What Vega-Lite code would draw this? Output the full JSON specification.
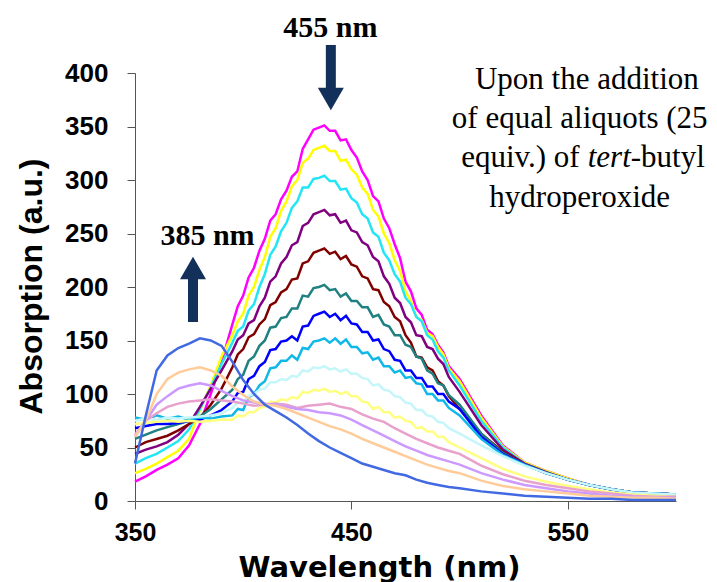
{
"$schema": "https://vega.github.io/schema/vega-lite/v6.json",
"width": 541, "height": 428,
"autosize": {"type": "none"},
"padding": {"left": 135, "top": 73, "right": 41, "bottom": 81},
"background": "white",
"config": {"view": {"stroke": null}},
"datasets": {
"spec": [
{"s":"s01","w":350,"a":18},{"s":"s01","w":355,"a":23},{"s":"s01","w":360,"a":29},{"s":"s01","w":365,"a":34},{"s":"s01","w":370,"a":40},{"s":"s01","w":375,"a":52},{"s":"s01","w":380,"a":72},{"s":"s01","w":385,"a":100},{"s":"s01","w":390,"a":130},{"s":"s01","w":395,"a":165},{"s":"s01","w":400,"a":192},{"s":"s01","w":405,"a":218},{"s":"s01","w":410,"a":245},{"s":"s01","w":415,"a":268},{"s":"s01","w":420,"a":290},{"s":"s01","w":425,"a":308},{"s":"s01","w":430,"a":338},{"s":"s01","w":435,"a":349},{"s":"s01","w":440,"a":346},{"s":"s01","w":445,"a":337},{"s":"s01","w":450,"a":328},{"s":"s01","w":455,"a":308},{"s":"s01","w":460,"a":285},{"s":"s01","w":465,"a":264},{"s":"s01","w":470,"a":240},{"s":"s01","w":475,"a":205},{"s":"s01","w":480,"a":180},{"s":"s01","w":485,"a":160},{"s":"s01","w":490,"a":146},{"s":"s01","w":495,"a":126},{"s":"s01","w":500,"a":114},{"s":"s01","w":510,"a":80},{"s":"s01","w":520,"a":52},{"s":"s01","w":530,"a":36},{"s":"s01","w":540,"a":28},{"s":"s01","w":550,"a":21},{"s":"s01","w":560,"a":15},{"s":"s01","w":570,"a":11},{"s":"s01","w":580,"a":8},{"s":"s01","w":590,"a":7},{"s":"s01","w":600,"a":6},
{"s":"s02","w":350,"a":26},{"s":"s02","w":355,"a":30},{"s":"s02","w":360,"a":35},{"s":"s02","w":365,"a":41},{"s":"s02","w":370,"a":47},{"s":"s02","w":375,"a":58},{"s":"s02","w":380,"a":85},{"s":"s02","w":385,"a":108},{"s":"s02","w":390,"a":135},{"s":"s02","w":395,"a":155},{"s":"s02","w":400,"a":175},{"s":"s02","w":405,"a":200},{"s":"s02","w":410,"a":228},{"s":"s02","w":415,"a":255},{"s":"s02","w":420,"a":280},{"s":"s02","w":425,"a":300},{"s":"s02","w":430,"a":320},{"s":"s02","w":435,"a":330},{"s":"s02","w":440,"a":327},{"s":"s02","w":445,"a":318},{"s":"s02","w":450,"a":310},{"s":"s02","w":455,"a":293},{"s":"s02","w":460,"a":272},{"s":"s02","w":465,"a":250},{"s":"s02","w":470,"a":225},{"s":"s02","w":475,"a":196},{"s":"s02","w":480,"a":172},{"s":"s02","w":485,"a":157},{"s":"s02","w":490,"a":144},{"s":"s02","w":495,"a":124},{"s":"s02","w":500,"a":112},{"s":"s02","w":510,"a":78},{"s":"s02","w":520,"a":51},{"s":"s02","w":530,"a":36},{"s":"s02","w":540,"a":28},{"s":"s02","w":550,"a":21},{"s":"s02","w":560,"a":15},{"s":"s02","w":570,"a":11},{"s":"s02","w":580,"a":8},{"s":"s02","w":590,"a":7},{"s":"s02","w":600,"a":6},
{"s":"s03","w":350,"a":35},{"s":"s03","w":355,"a":40},{"s":"s03","w":360,"a":44},{"s":"s03","w":365,"a":50},{"s":"s03","w":370,"a":56},{"s":"s03","w":375,"a":67},{"s":"s03","w":380,"a":86},{"s":"s03","w":385,"a":106},{"s":"s03","w":390,"a":128},{"s":"s03","w":395,"a":148},{"s":"s03","w":400,"a":163},{"s":"s03","w":405,"a":184},{"s":"s03","w":410,"a":212},{"s":"s03","w":415,"a":238},{"s":"s03","w":420,"a":260},{"s":"s03","w":425,"a":280},{"s":"s03","w":430,"a":293},{"s":"s03","w":435,"a":302},{"s":"s03","w":440,"a":299},{"s":"s03","w":445,"a":291},{"s":"s03","w":450,"a":283},{"s":"s03","w":455,"a":268},{"s":"s03","w":460,"a":251},{"s":"s03","w":465,"a":232},{"s":"s03","w":470,"a":212},{"s":"s03","w":475,"a":190},{"s":"s03","w":480,"a":172},{"s":"s03","w":485,"a":155},{"s":"s03","w":490,"a":140},{"s":"s03","w":495,"a":122},{"s":"s03","w":500,"a":108},{"s":"s03","w":510,"a":75},{"s":"s03","w":520,"a":50},{"s":"s03","w":530,"a":35},{"s":"s03","w":540,"a":27},{"s":"s03","w":550,"a":20},{"s":"s03","w":560,"a":15},{"s":"s03","w":570,"a":11},{"s":"s03","w":580,"a":8},{"s":"s03","w":590,"a":7},{"s":"s03","w":600,"a":6},
{"s":"s04","w":350,"a":44},{"s":"s04","w":355,"a":48},{"s":"s04","w":360,"a":51},{"s":"s04","w":365,"a":55},{"s":"s04","w":370,"a":62},{"s":"s04","w":375,"a":72},{"s":"s04","w":380,"a":88},{"s":"s04","w":385,"a":105},{"s":"s04","w":390,"a":122},{"s":"s04","w":395,"a":140},{"s":"s04","w":400,"a":155},{"s":"s04","w":405,"a":169},{"s":"s04","w":410,"a":190},{"s":"s04","w":415,"a":210},{"s":"s04","w":420,"a":228},{"s":"s04","w":425,"a":242},{"s":"s04","w":430,"a":260},{"s":"s04","w":435,"a":270},{"s":"s04","w":440,"a":267},{"s":"s04","w":445,"a":260},{"s":"s04","w":450,"a":253},{"s":"s04","w":455,"a":242},{"s":"s04","w":460,"a":228},{"s":"s04","w":465,"a":210},{"s":"s04","w":470,"a":190},{"s":"s04","w":475,"a":172},{"s":"s04","w":480,"a":155},{"s":"s04","w":485,"a":144},{"s":"s04","w":490,"a":133},{"s":"s04","w":495,"a":116},{"s":"s04","w":500,"a":102},{"s":"s04","w":510,"a":71},{"s":"s04","w":520,"a":48},{"s":"s04","w":530,"a":35},{"s":"s04","w":540,"a":27},{"s":"s04","w":550,"a":20},{"s":"s04","w":560,"a":15},{"s":"s04","w":570,"a":11},{"s":"s04","w":580,"a":8},{"s":"s04","w":590,"a":7},{"s":"s04","w":600,"a":6},
{"s":"s05","w":350,"a":50},{"s":"s05","w":355,"a":55},{"s":"s05","w":360,"a":58},{"s":"s05","w":365,"a":61},{"s":"s05","w":370,"a":66},{"s":"s05","w":375,"a":72},{"s":"s05","w":380,"a":78},{"s":"s05","w":385,"a":90},{"s":"s05","w":390,"a":105},{"s":"s05","w":395,"a":125},{"s":"s05","w":400,"a":142},{"s":"s05","w":405,"a":156},{"s":"s05","w":410,"a":170},{"s":"s05","w":415,"a":186},{"s":"s05","w":420,"a":198},{"s":"s05","w":425,"a":208},{"s":"s05","w":430,"a":224},{"s":"s05","w":435,"a":234},{"s":"s05","w":440,"a":231},{"s":"s05","w":445,"a":226},{"s":"s05","w":450,"a":221},{"s":"s05","w":455,"a":210},{"s":"s05","w":460,"a":198},{"s":"s05","w":465,"a":186},{"s":"s05","w":470,"a":172},{"s":"s05","w":475,"a":155},{"s":"s05","w":480,"a":135},{"s":"s05","w":485,"a":125},{"s":"s05","w":490,"a":112},{"s":"s05","w":495,"a":98},{"s":"s05","w":500,"a":86},{"s":"s05","w":510,"a":63},{"s":"s05","w":520,"a":46},{"s":"s05","w":530,"a":34},{"s":"s05","w":540,"a":26},{"s":"s05","w":550,"a":20},{"s":"s05","w":560,"a":15},{"s":"s05","w":570,"a":11},{"s":"s05","w":580,"a":8},{"s":"s05","w":590,"a":7},{"s":"s05","w":600,"a":6},
{"s":"s06","w":350,"a":58},{"s":"s06","w":355,"a":62},{"s":"s06","w":360,"a":66},{"s":"s06","w":365,"a":69},{"s":"s06","w":370,"a":72},{"s":"s06","w":375,"a":75},{"s":"s06","w":380,"a":79},{"s":"s06","w":385,"a":86},{"s":"s06","w":390,"a":95},{"s":"s06","w":395,"a":104},{"s":"s06","w":400,"a":118},{"s":"s06","w":405,"a":135},{"s":"s06","w":410,"a":150},{"s":"s06","w":415,"a":163},{"s":"s06","w":420,"a":172},{"s":"s06","w":425,"a":180},{"s":"s06","w":430,"a":191},{"s":"s06","w":435,"a":200},{"s":"s06","w":440,"a":197},{"s":"s06","w":445,"a":191},{"s":"s06","w":450,"a":187},{"s":"s06","w":455,"a":181},{"s":"s06","w":460,"a":172},{"s":"s06","w":465,"a":165},{"s":"s06","w":470,"a":155},{"s":"s06","w":475,"a":146},{"s":"s06","w":480,"a":135},{"s":"s06","w":485,"a":122},{"s":"s06","w":490,"a":110},{"s":"s06","w":495,"a":99},{"s":"s06","w":500,"a":90},{"s":"s06","w":510,"a":63},{"s":"s06","w":520,"a":45},{"s":"s06","w":530,"a":34},{"s":"s06","w":540,"a":26},{"s":"s06","w":550,"a":20},{"s":"s06","w":560,"a":15},{"s":"s06","w":570,"a":11},{"s":"s06","w":580,"a":8},{"s":"s06","w":590,"a":7},{"s":"s06","w":600,"a":6},
{"s":"s07","w":350,"a":68},{"s":"s07","w":355,"a":70},{"s":"s07","w":360,"a":72},{"s":"s07","w":365,"a":72},{"s":"s07","w":370,"a":73},{"s":"s07","w":375,"a":75},{"s":"s07","w":380,"a":76},{"s":"s07","w":385,"a":80},{"s":"s07","w":390,"a":85},{"s":"s07","w":395,"a":93},{"s":"s07","w":400,"a":102},{"s":"s07","w":405,"a":117},{"s":"s07","w":410,"a":130},{"s":"s07","w":415,"a":142},{"s":"s07","w":420,"a":150},{"s":"s07","w":425,"a":150},{"s":"s07","w":430,"a":164},{"s":"s07","w":435,"a":175},{"s":"s07","w":440,"a":172},{"s":"s07","w":445,"a":169},{"s":"s07","w":450,"a":166},{"s":"s07","w":455,"a":158},{"s":"s07","w":460,"a":150},{"s":"s07","w":465,"a":142},{"s":"s07","w":470,"a":132},{"s":"s07","w":475,"a":122},{"s":"s07","w":480,"a":115},{"s":"s07","w":485,"a":107},{"s":"s07","w":490,"a":100},{"s":"s07","w":495,"a":93},{"s":"s07","w":500,"a":86},{"s":"s07","w":510,"a":60},{"s":"s07","w":520,"a":44},{"s":"s07","w":530,"a":34},{"s":"s07","w":540,"a":26},{"s":"s07","w":550,"a":20},{"s":"s07","w":560,"a":15},{"s":"s07","w":570,"a":11},{"s":"s07","w":580,"a":8},{"s":"s07","w":590,"a":7},{"s":"s07","w":600,"a":6},
{"s":"s08","w":350,"a":78},{"s":"s08","w":355,"a":76},{"s":"s08","w":360,"a":80},{"s":"s08","w":365,"a":77},{"s":"s08","w":370,"a":79},{"s":"s08","w":375,"a":76},{"s":"s08","w":380,"a":78},{"s":"s08","w":385,"a":77},{"s":"s08","w":390,"a":79},{"s":"s08","w":395,"a":80},{"s":"s08","w":400,"a":85},{"s":"s08","w":405,"a":100},{"s":"s08","w":410,"a":112},{"s":"s08","w":415,"a":125},{"s":"s08","w":420,"a":131},{"s":"s08","w":425,"a":132},{"s":"s08","w":430,"a":142},{"s":"s08","w":435,"a":150},{"s":"s08","w":440,"a":148},{"s":"s08","w":445,"a":147},{"s":"s08","w":450,"a":144},{"s":"s08","w":455,"a":138},{"s":"s08","w":460,"a":132},{"s":"s08","w":465,"a":126},{"s":"s08","w":470,"a":120},{"s":"s08","w":475,"a":115},{"s":"s08","w":480,"a":110},{"s":"s08","w":485,"a":100},{"s":"s08","w":490,"a":94},{"s":"s08","w":495,"a":87},{"s":"s08","w":500,"a":80},{"s":"s08","w":510,"a":58},{"s":"s08","w":520,"a":43},{"s":"s08","w":530,"a":34},{"s":"s08","w":540,"a":26},{"s":"s08","w":550,"a":20},{"s":"s08","w":560,"a":15},{"s":"s08","w":570,"a":11},{"s":"s08","w":580,"a":8},{"s":"s08","w":590,"a":7},{"s":"s08","w":600,"a":6},
{"s":"s09","w":350,"a":75},{"s":"s09","w":355,"a":77},{"s":"s09","w":360,"a":76},{"s":"s09","w":365,"a":78},{"s":"s09","w":370,"a":77},{"s":"s09","w":375,"a":78},{"s":"s09","w":380,"a":79},{"s":"s09","w":385,"a":80},{"s":"s09","w":390,"a":82},{"s":"s09","w":395,"a":87},{"s":"s09","w":400,"a":92},{"s":"s09","w":405,"a":100},{"s":"s09","w":410,"a":105},{"s":"s09","w":415,"a":111},{"s":"s09","w":420,"a":113},{"s":"s09","w":425,"a":116},{"s":"s09","w":430,"a":121},{"s":"s09","w":435,"a":124},{"s":"s09","w":440,"a":123},{"s":"s09","w":445,"a":121},{"s":"s09","w":450,"a":119},{"s":"s09","w":455,"a":115},{"s":"s09","w":460,"a":108},{"s":"s09","w":465,"a":104},{"s":"s09","w":470,"a":98},{"s":"s09","w":475,"a":92},{"s":"s09","w":480,"a":85},{"s":"s09","w":485,"a":80},{"s":"s09","w":490,"a":74},{"s":"s09","w":495,"a":68},{"s":"s09","w":500,"a":63},{"s":"s09","w":510,"a":52},{"s":"s09","w":520,"a":42},{"s":"s09","w":530,"a":33},{"s":"s09","w":540,"a":26},{"s":"s09","w":550,"a":20},{"s":"s09","w":560,"a":15},{"s":"s09","w":570,"a":11},{"s":"s09","w":580,"a":8},{"s":"s09","w":590,"a":7},{"s":"s09","w":600,"a":6},
{"s":"s10","w":350,"a":72},{"s":"s10","w":355,"a":73},{"s":"s10","w":360,"a":74},{"s":"s10","w":365,"a":75},{"s":"s10","w":370,"a":74},{"s":"s10","w":375,"a":75},{"s":"s10","w":380,"a":74},{"s":"s10","w":385,"a":75},{"s":"s10","w":390,"a":76},{"s":"s10","w":395,"a":76},{"s":"s10","w":400,"a":79},{"s":"s10","w":405,"a":83},{"s":"s10","w":410,"a":88},{"s":"s10","w":415,"a":92},{"s":"s10","w":420,"a":94},{"s":"s10","w":425,"a":96},{"s":"s10","w":430,"a":101},{"s":"s10","w":435,"a":103},{"s":"s10","w":440,"a":102},{"s":"s10","w":445,"a":100},{"s":"s10","w":450,"a":98},{"s":"s10","w":455,"a":93},{"s":"s10","w":460,"a":86},{"s":"s10","w":465,"a":83},{"s":"s10","w":470,"a":78},{"s":"s10","w":475,"a":75},{"s":"s10","w":480,"a":68},{"s":"s10","w":485,"a":65},{"s":"s10","w":490,"a":60},{"s":"s10","w":495,"a":55},{"s":"s10","w":500,"a":50},{"s":"s10","w":510,"a":40},{"s":"s10","w":520,"a":30},{"s":"s10","w":530,"a":23},{"s":"s10","w":540,"a":18},{"s":"s10","w":550,"a":14},{"s":"s10","w":560,"a":11},{"s":"s10","w":570,"a":8},{"s":"s10","w":580,"a":6},{"s":"s10","w":590,"a":5},{"s":"s10","w":600,"a":4},
{"s":"s11","w":350,"a":62},{"s":"s11","w":355,"a":75},{"s":"s11","w":360,"a":82},{"s":"s11","w":365,"a":88},{"s":"s11","w":370,"a":91},{"s":"s11","w":375,"a":93},{"s":"s11","w":380,"a":94},{"s":"s11","w":385,"a":95},{"s":"s11","w":390,"a":94},{"s":"s11","w":395,"a":93},{"s":"s11","w":400,"a":91},{"s":"s11","w":405,"a":89},{"s":"s11","w":410,"a":90},{"s":"s11","w":415,"a":91},{"s":"s11","w":420,"a":90},{"s":"s11","w":425,"a":87},{"s":"s11","w":430,"a":89},{"s":"s11","w":435,"a":90},{"s":"s11","w":440,"a":91},{"s":"s11","w":445,"a":88},{"s":"s11","w":450,"a":86},{"s":"s11","w":455,"a":81},{"s":"s11","w":460,"a":77},{"s":"s11","w":465,"a":74},{"s":"s11","w":470,"a":68},{"s":"s11","w":475,"a":63},{"s":"s11","w":480,"a":58},{"s":"s11","w":485,"a":54},{"s":"s11","w":490,"a":50},{"s":"s11","w":495,"a":47},{"s":"s11","w":500,"a":44},{"s":"s11","w":510,"a":33},{"s":"s11","w":520,"a":25},{"s":"s11","w":530,"a":19},{"s":"s11","w":540,"a":15},{"s":"s11","w":550,"a":12},{"s":"s11","w":560,"a":9},{"s":"s11","w":570,"a":7},{"s":"s11","w":580,"a":5},{"s":"s11","w":590,"a":4},{"s":"s11","w":600,"a":4},
{"s":"s12","w":350,"a":60},{"s":"s12","w":355,"a":75},{"s":"s12","w":360,"a":90},{"s":"s12","w":365,"a":98},{"s":"s12","w":370,"a":105},{"s":"s12","w":375,"a":108},{"s":"s12","w":380,"a":110},{"s":"s12","w":385,"a":108},{"s":"s12","w":390,"a":103},{"s":"s12","w":395,"a":98},{"s":"s12","w":400,"a":94},{"s":"s12","w":405,"a":92},{"s":"s12","w":410,"a":91},{"s":"s12","w":415,"a":90},{"s":"s12","w":420,"a":88},{"s":"s12","w":425,"a":86},{"s":"s12","w":430,"a":85},{"s":"s12","w":435,"a":83},{"s":"s12","w":440,"a":82},{"s":"s12","w":445,"a":80},{"s":"s12","w":450,"a":76},{"s":"s12","w":455,"a":71},{"s":"s12","w":460,"a":66},{"s":"s12","w":465,"a":61},{"s":"s12","w":470,"a":56},{"s":"s12","w":475,"a":51},{"s":"s12","w":480,"a":47},{"s":"s12","w":485,"a":43},{"s":"s12","w":490,"a":40},{"s":"s12","w":495,"a":37},{"s":"s12","w":500,"a":34},{"s":"s12","w":510,"a":26},{"s":"s12","w":520,"a":20},{"s":"s12","w":530,"a":15},{"s":"s12","w":540,"a":12},{"s":"s12","w":550,"a":9},{"s":"s12","w":560,"a":7},{"s":"s12","w":570,"a":5},{"s":"s12","w":580,"a":4},{"s":"s12","w":590,"a":3},{"s":"s12","w":600,"a":3},
{"s":"s13","w":350,"a":60},{"s":"s13","w":355,"a":75},{"s":"s13","w":360,"a":100},{"s":"s13","w":365,"a":114},{"s":"s13","w":370,"a":120},{"s":"s13","w":375,"a":123},{"s":"s13","w":380,"a":125},{"s":"s13","w":385,"a":122},{"s":"s13","w":390,"a":117},{"s":"s13","w":395,"a":107},{"s":"s13","w":400,"a":99},{"s":"s13","w":405,"a":93},{"s":"s13","w":410,"a":90},{"s":"s13","w":415,"a":89},{"s":"s13","w":420,"a":86},{"s":"s13","w":425,"a":82},{"s":"s13","w":430,"a":78},{"s":"s13","w":435,"a":74},{"s":"s13","w":440,"a":70},{"s":"s13","w":445,"a":67},{"s":"s13","w":450,"a":63},{"s":"s13","w":455,"a":58},{"s":"s13","w":460,"a":54},{"s":"s13","w":465,"a":50},{"s":"s13","w":470,"a":46},{"s":"s13","w":475,"a":42},{"s":"s13","w":480,"a":38},{"s":"s13","w":485,"a":34},{"s":"s13","w":490,"a":31},{"s":"s13","w":495,"a":28},{"s":"s13","w":500,"a":26},{"s":"s13","w":510,"a":19},{"s":"s13","w":520,"a":14},{"s":"s13","w":530,"a":11},{"s":"s13","w":540,"a":9},{"s":"s13","w":550,"a":7},{"s":"s13","w":560,"a":5},{"s":"s13","w":570,"a":4},{"s":"s13","w":580,"a":3},{"s":"s13","w":590,"a":3},{"s":"s13","w":600,"a":2},
{"s":"s14","w":350,"a":35},{"s":"s14","w":355,"a":80},{"s":"s14","w":360,"a":122},{"s":"s14","w":365,"a":136},{"s":"s14","w":370,"a":143},{"s":"s14","w":375,"a":147},{"s":"s14","w":380,"a":152},{"s":"s14","w":385,"a":150},{"s":"s14","w":390,"a":145},{"s":"s14","w":395,"a":130},{"s":"s14","w":400,"a":113},{"s":"s14","w":405,"a":100},{"s":"s14","w":410,"a":90},{"s":"s14","w":415,"a":84},{"s":"s14","w":420,"a":78},{"s":"s14","w":425,"a":71},{"s":"s14","w":430,"a":63},{"s":"s14","w":435,"a":56},{"s":"s14","w":440,"a":50},{"s":"s14","w":445,"a":45},{"s":"s14","w":450,"a":40},{"s":"s14","w":455,"a":35},{"s":"s14","w":460,"a":32},{"s":"s14","w":465,"a":29},{"s":"s14","w":470,"a":26},{"s":"s14","w":475,"a":24},{"s":"s14","w":480,"a":20},{"s":"s14","w":485,"a":17},{"s":"s14","w":490,"a":15},{"s":"s14","w":495,"a":13},{"s":"s14","w":500,"a":12},{"s":"s14","w":510,"a":9},{"s":"s14","w":520,"a":7},{"s":"s14","w":530,"a":5},{"s":"s14","w":540,"a":4},{"s":"s14","w":550,"a":3},{"s":"s14","w":560,"a":2},{"s":"s14","w":570,"a":2},{"s":"s14","w":580,"a":1},{"s":"s14","w":590,"a":1},{"s":"s14","w":600,"a":1},
{"s":"s01","w":397.5,"a":182},{"s":"s01","w":402.5,"a":209},{"s":"s01","w":407.5,"a":234},{"s":"s01","w":412.5,"a":262},{"s":"s01","w":417.5,"a":282},{"s":"s01","w":422.5,"a":303},{"s":"s01","w":427.5,"a":329},{"s":"s01","w":432.5,"a":347},{"s":"s01","w":437.5,"a":351},{"s":"s01","w":442.5,"a":346},{"s":"s01","w":447.5,"a":338},{"s":"s01","w":452.5,"a":321},{"s":"s01","w":457.5,"a":300},{"s":"s01","w":462.5,"a":280},{"s":"s01","w":467.5,"a":255},{"s":"s01","w":472.5,"a":227},{"s":"s01","w":477.5,"a":196},{"s":"s01","w":482.5,"a":174},{"s":"s01","w":487.5,"a":156},{"s":"s01","w":492.5,"a":139},
{"s":"s02","w":397.5,"a":168},{"s":"s02","w":402.5,"a":192},{"s":"s02","w":407.5,"a":216},{"s":"s02","w":412.5,"a":247},{"s":"s02","w":417.5,"a":271},{"s":"s02","w":422.5,"a":294},{"s":"s02","w":427.5,"a":316},{"s":"s02","w":432.5,"a":328},{"s":"s02","w":437.5,"a":332},{"s":"s02","w":442.5,"a":327},{"s":"s02","w":447.5,"a":319},{"s":"s02","w":452.5,"a":305},{"s":"s02","w":457.5,"a":287},{"s":"s02","w":462.5,"a":266},{"s":"s02","w":467.5,"a":241},{"s":"s02","w":472.5,"a":215},{"s":"s02","w":477.5,"a":187},{"s":"s02","w":482.5,"a":169},{"s":"s02","w":487.5,"a":154},{"s":"s02","w":492.5,"a":137},
{"s":"s03","w":397.5,"a":159},{"s":"s03","w":402.5,"a":178},{"s":"s03","w":407.5,"a":200},{"s":"s03","w":412.5,"a":230},{"s":"s03","w":417.5,"a":252},{"s":"s03","w":422.5,"a":274},{"s":"s03","w":427.5,"a":293},{"s":"s03","w":432.5,"a":301},{"s":"s03","w":437.5,"a":304},{"s":"s03","w":442.5,"a":299},{"s":"s03","w":447.5,"a":292},{"s":"s03","w":452.5,"a":279},{"s":"s03","w":457.5,"a":264},{"s":"s03","w":462.5,"a":247},{"s":"s03","w":467.5,"a":225},{"s":"s03","w":472.5,"a":205},{"s":"s03","w":477.5,"a":184},{"s":"s03","w":482.5,"a":168},{"s":"s03","w":487.5,"a":151},{"s":"s03","w":492.5,"a":134},
{"s":"s04","w":397.5,"a":151},{"s":"s04","w":402.5,"a":166},{"s":"s04","w":407.5,"a":182},{"s":"s04","w":412.5,"a":205},{"s":"s04","w":417.5,"a":222},{"s":"s04","w":422.5,"a":239},{"s":"s04","w":427.5,"a":257},{"s":"s04","w":432.5,"a":268},{"s":"s04","w":437.5,"a":272},{"s":"s04","w":442.5,"a":268},{"s":"s04","w":447.5,"a":262},{"s":"s04","w":452.5,"a":251},{"s":"s04","w":457.5,"a":239},{"s":"s04","w":462.5,"a":224},{"s":"s04","w":467.5,"a":203},{"s":"s04","w":472.5,"a":185},{"s":"s04","w":477.5,"a":167},{"s":"s04","w":482.5,"a":154},{"s":"s04","w":487.5,"a":142},{"s":"s04","w":492.5,"a":128},
{"s":"s05","w":397.5,"a":137},{"s":"s05","w":402.5,"a":153},{"s":"s05","w":407.5,"a":165},{"s":"s05","w":412.5,"a":183},{"s":"s05","w":417.5,"a":195},{"s":"s05","w":422.5,"a":207},{"s":"s05","w":427.5,"a":222},{"s":"s05","w":432.5,"a":232},{"s":"s05","w":437.5,"a":236},{"s":"s05","w":442.5,"a":233},{"s":"s05","w":447.5,"a":229},{"s":"s05","w":452.5,"a":219},{"s":"s05","w":457.5,"a":208},{"s":"s05","w":462.5,"a":197},{"s":"s05","w":467.5,"a":182},{"s":"s05","w":472.5,"a":168},{"s":"s05","w":477.5,"a":148},{"s":"s05","w":482.5,"a":134},{"s":"s05","w":487.5,"a":122},{"s":"s05","w":492.5,"a":108},
{"s":"s06","w":397.5,"a":114},{"s":"s06","w":402.5,"a":131},{"s":"s06","w":407.5,"a":145},{"s":"s06","w":412.5,"a":162},{"s":"s06","w":417.5,"a":171},{"s":"s06","w":422.5,"a":180},{"s":"s06","w":427.5,"a":192},{"s":"s06","w":432.5,"a":199},{"s":"s06","w":437.5,"a":202},{"s":"s06","w":442.5,"a":198},{"s":"s06","w":447.5,"a":194},{"s":"s06","w":452.5,"a":187},{"s":"s06","w":457.5,"a":181},{"s":"s06","w":462.5,"a":174},{"s":"s06","w":467.5,"a":163},{"s":"s06","w":472.5,"a":155},{"s":"s06","w":477.5,"a":144},{"s":"s06","w":482.5,"a":133},{"s":"s06","w":487.5,"a":119},{"s":"s06","w":492.5,"a":108},
{"s":"s07","w":397.5,"a":101},{"s":"s07","w":402.5,"a":114},{"s":"s07","w":407.5,"a":126},{"s":"s07","w":412.5,"a":141},{"s":"s07","w":417.5,"a":149},{"s":"s07","w":422.5,"a":154},{"s":"s07","w":427.5,"a":163},{"s":"s07","w":432.5,"a":173},{"s":"s07","w":437.5,"a":177},{"s":"s07","w":442.5,"a":175},{"s":"s07","w":447.5,"a":173},{"s":"s07","w":452.5,"a":165},{"s":"s07","w":457.5,"a":158},{"s":"s07","w":462.5,"a":151},{"s":"s07","w":467.5,"a":140},{"s":"s07","w":472.5,"a":131},{"s":"s07","w":477.5,"a":122},{"s":"s07","w":482.5,"a":115},{"s":"s07","w":487.5,"a":107},{"s":"s07","w":492.5,"a":100},
{"s":"s08","w":397.5,"a":86},{"s":"s08","w":402.5,"a":97},{"s":"s08","w":407.5,"a":108},{"s":"s08","w":412.5,"a":124},{"s":"s08","w":417.5,"a":131},{"s":"s08","w":422.5,"a":136},{"s":"s08","w":427.5,"a":143},{"s":"s08","w":432.5,"a":149},{"s":"s08","w":437.5,"a":152},{"s":"s08","w":442.5,"a":152},{"s":"s08","w":447.5,"a":151},{"s":"s08","w":452.5,"a":144},{"s":"s08","w":457.5,"a":139},{"s":"s08","w":462.5,"a":134},{"s":"s08","w":467.5,"a":126},{"s":"s08","w":472.5,"a":122},{"s":"s08","w":477.5,"a":116},{"s":"s08","w":482.5,"a":109},{"s":"s08","w":487.5,"a":100},{"s":"s08","w":492.5,"a":94},
{"s":"s09","w":397.5,"a":92},{"s":"s09","w":402.5,"a":98},{"s":"s09","w":407.5,"a":104},{"s":"s09","w":412.5,"a":111},{"s":"s09","w":417.5,"a":114},{"s":"s09","w":422.5,"a":117},{"s":"s09","w":427.5,"a":122},{"s":"s09","w":432.5,"a":125},{"s":"s09","w":437.5,"a":126},{"s":"s09","w":442.5,"a":124},{"s":"s09","w":447.5,"a":123},{"s":"s09","w":452.5,"a":119},{"s":"s09","w":457.5,"a":114},{"s":"s09","w":462.5,"a":109},{"s":"s09","w":467.5,"a":103},{"s":"s09","w":472.5,"a":97},{"s":"s09","w":477.5,"a":91},{"s":"s09","w":482.5,"a":85},{"s":"s09","w":487.5,"a":79},{"s":"s09","w":492.5,"a":73},
{"s":"s10","w":397.5,"a":80},{"s":"s10","w":402.5,"a":83},{"s":"s10","w":407.5,"a":87},{"s":"s10","w":412.5,"a":93},{"s":"s10","w":417.5,"a":95},{"s":"s10","w":422.5,"a":97},{"s":"s10","w":427.5,"a":102},{"s":"s10","w":432.5,"a":104},{"s":"s10","w":437.5,"a":105},{"s":"s10","w":442.5,"a":103},{"s":"s10","w":447.5,"a":102},{"s":"s10","w":452.5,"a":98},{"s":"s10","w":457.5,"a":92},{"s":"s10","w":462.5,"a":88},{"s":"s10","w":467.5,"a":83},{"s":"s10","w":472.5,"a":79},{"s":"s10","w":477.5,"a":74},{"s":"s10","w":482.5,"a":69},{"s":"s10","w":487.5,"a":65},{"s":"s10","w":492.5,"a":60}
],
"shafts": [{"w":440.5,"a":426.2,"a2":382.2},{"w":376.8,"a":167.3,"a2":211.2}],
"heads": [{"w":440.5,"a":375.7,"shape":"triangle-down"},{"w":376.8,"a":217.8,"shape":"triangle-up"}],
"boldlabels": [{"w":440.3,"a":433.6,"t":"455 nm"},{"w":383.5,"a":239.3,"t":"385 nm"}],
"centerlines": [{"w":558.8,"a":385,"t":"Upon the addition"},{"w":555.5,"a":348.6,"t":"of equal aliquots (25"},{"w":555.5,"a":274.8,"t":"hydroperoxide"}],
"leftpart": [{"w":555.5,"a":312.1,"t":"equiv.) of"}],
"italicpart": [{"w":559.2,"a":312.1,"t":"tert"}],
"rightpart": [{"w":579.1,"a":312.1,"t":"-butyl"}]
},
"layer": [
{
"data": {"name": "spec"},
"mark": {"type": "line", "strokeWidth": 2.5},
"encoding": {
"x": {"field": "w", "type": "quantitative",
 "scale": {"domain": [350, 600], "nice": false, "zero": false},
 "axis": {"values": [350, 450, 550], "title": "Wavelength (nm)", "grid": false,
  "labelFont": "Liberation Sans", "labelFontWeight": "bold", "labelFontSize": 25, "labelColor": "#000",
  "labelPadding": 11, "tickSize": 8, "tickColor": "#555", "domainColor": "#555", "labelFlush": false,
  "titleFont": "DejaVu Sans", "titleFontWeight": "bold", "titleFontSize": 29, "titleColor": "#000",
  "titleX": 244, "titleY": 75, "titleBaseline": "alphabetic", "titleAlign": "center"}},
"y": {"field": "a", "type": "quantitative",
 "scale": {"domain": [0, 400], "nice": false},
 "axis": {"values": [0, 50, 100, 150, 200, 250, 300, 350, 400], "title": "Absorption (a.u.)", "grid": false,
  "labelFont": "Liberation Sans", "labelFontWeight": "bold", "labelFontSize": 26, "labelColor": "#000",
  "labelPadding": 19, "tickSize": 8, "tickColor": "#555", "domainColor": "#555",
  "titleFont": "Liberation Sans", "titleFontWeight": "bold", "titleFontSize": 32, "titleColor": "#000",
  "titleX": -104, "titleY": 213, "titleAngle": 270, "titleBaseline": "middle", "titleAlign": "center"}},
"color": {"field": "s", "type": "nominal", "legend": null,
 "scale": {"domain": ["s01","s02","s03","s04","s05","s06","s07","s08","s09","s10","s11","s12","s13","s14"],
  "range": ["#FF00FF","#FFFF00","#22E5F5","#800080","#800000","#218080","#0000FF","#10B8E8","#C4F6FA","#FFFF80","#E8A0CC","#CC99FF","#FFCC99","#4169E1"]}}
}
},
{
"data": {"name": "shafts"},
"mark": {"type": "rule", "strokeWidth": 10, "color": "#13305A", "strokeCap": "butt"},
"encoding": {"x": {"field": "w", "type": "quantitative"}, "y": {"field": "a", "type": "quantitative"}, "y2": {"field": "a2"}}
},
{
"data": {"name": "heads"},
"mark": {"type": "point", "filled": true, "size": 676, "color": "#13305A", "opacity": 1},
"encoding": {"x": {"field": "w", "type": "quantitative"}, "y": {"field": "a", "type": "quantitative"},
 "shape": {"field": "shape", "type": "nominal", "scale": null}}
},
{
"data": {"name": "boldlabels"},
"mark": {"type": "text", "font": "Liberation Serif", "fontWeight": "bold", "fontSize": 30, "align": "center", "baseline": "alphabetic", "color": "#000"},
"encoding": {"x": {"field": "w", "type": "quantitative"}, "y": {"field": "a", "type": "quantitative"}, "text": {"field": "t"}}
},
{
"data": {"name": "centerlines"},
"mark": {"type": "text", "font": "Liberation Serif", "fontSize": 31, "align": "center", "baseline": "alphabetic", "color": "#000"},
"encoding": {"x": {"field": "w", "type": "quantitative"}, "y": {"field": "a", "type": "quantitative"}, "text": {"field": "t"}}
},
{
"data": {"name": "leftpart"},
"mark": {"type": "text", "font": "Liberation Serif", "fontSize": 31, "align": "right", "baseline": "alphabetic", "color": "#000"},
"encoding": {"x": {"field": "w", "type": "quantitative"}, "y": {"field": "a", "type": "quantitative"}, "text": {"field": "t"}}
},
{
"data": {"name": "italicpart"},
"mark": {"type": "text", "font": "Liberation Serif", "fontStyle": "italic", "fontSize": 31, "align": "left", "baseline": "alphabetic", "color": "#000"},
"encoding": {"x": {"field": "w", "type": "quantitative"}, "y": {"field": "a", "type": "quantitative"}, "text": {"field": "t"}}
},
{
"data": {"name": "rightpart"},
"mark": {"type": "text", "font": "Liberation Serif", "fontSize": 31, "align": "left", "baseline": "alphabetic", "color": "#000"},
"encoding": {"x": {"field": "w", "type": "quantitative"}, "y": {"field": "a", "type": "quantitative"}, "text": {"field": "t"}}
}
]
}
